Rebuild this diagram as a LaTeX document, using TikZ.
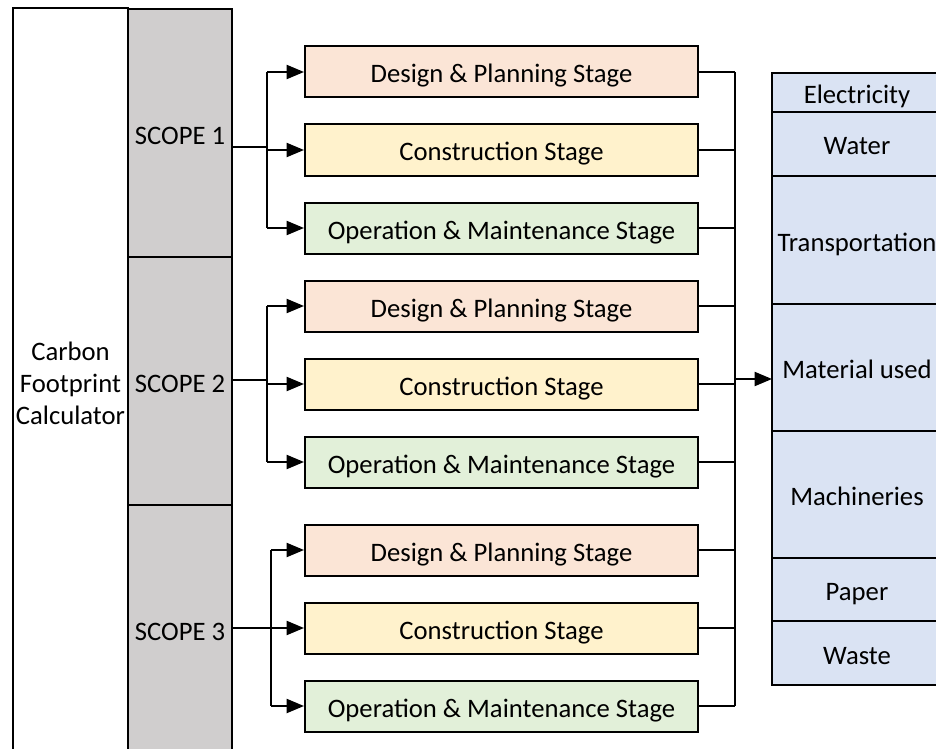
\documentclass[tikz,border=0pt]{standalone}
\usepackage{fontspec}
\setmainfont{Carlito}
\usetikzlibrary{arrows.meta,positioning}

\definecolor{plan}{HTML}{FBE5D6}
\definecolor{build}{HTML}{FFF2CC}
\definecolor{operate}{HTML}{E2F0D9}
\definecolor{source}{HTML}{DAE3F3}
\definecolor{scopegray}{HTML}{D0CECE}

\begin{document}
\begin{tikzpicture} [>={Triangle[length=13pt,width=10.5pt]},node distance=58.5pt,line width=1.5pt,
  font=\fontsize{20}{24}\selectfont,
  label text/.style={text height=20pt,text depth=3.5pt},
  stage/.style={draw,rectangle,minimum width=294.75pt,minimum height=38.25pt,inner sep=0pt,label text},
  scopebox/.style={draw,fill=scopegray,minimum width=78pt,minimum height=186pt,inner sep=0pt,label text},
  cell/.style={draw,fill=source,minimum width=127.5pt,inner sep=0pt,outer sep=0pt,anchor=north,label text}]

  \useasboundingbox (0,0) rectangle (702pt,-561.75pt);

  \node[draw,minimum width=86.25pt,minimum height=563.25pt,inner sep=0pt,align=center] (calc) at (52.875pt,-287.5pt) {Carbon\\Footprint\\Calculator};

  \node[scopebox] (s1) at (135pt,-99.75pt) {SCOPE 1};
  \node[scopebox] (s2) [below of=s1, node distance=186pt] {SCOPE 2};
  \node[scopebox] (s3) [below of=s2, node distance=186pt] {SCOPE 3};

  \node[stage,fill=plan] (d1) at (376.125pt,-54pt) {Design \& Planning Stage};
  \node[stage,fill=build] (c1) [below of=d1] {Construction Stage};
  \node[stage,fill=operate] (o1) [below of=c1] {Operation \& Maintenance Stage};
  \node[stage,fill=plan] (d2) [below of=o1] {Design \& Planning Stage};
  \node[stage,fill=build] (c2) [below of=d2] {Construction Stage};
  \node[stage,fill=operate] (o2) [below of=c2] {Operation \& Maintenance Stage};
  \node[stage,fill=plan] (d3) [below of=o2, node distance=66pt] {Design \& Planning Stage};
  \node[stage,fill=build] (c3) [below of=d3] {Construction Stage};
  \node[stage,fill=operate] (o3) [below of=c3] {Operation \& Maintenance Stage};

  \node[cell,minimum height=29.25pt] (elec) at (642.75pt,-54.75pt) {Electricity};
  \node[cell,minimum height=48pt] (water) [below=0pt of elec] {Water};
  \node[cell,minimum height=96pt] (trans) [below=0pt of water] {Transportation};
  \node[cell,minimum height=95.25pt] (mat) [below=0pt of trans] {Material used};
  \node[cell,minimum height=95.25pt] (mach) [below=0pt of mat] {Machineries};
  \node[cell,minimum height=47.25pt] (paper) [below=0pt of mach] {Paper};
  \node[cell,minimum height=48pt] (waste) [below=0pt of paper] {Waste};

  \coordinate (b1) at (200.25pt,-110.25pt);
  \coordinate (b2) at (200.25pt,-285pt);
  \coordinate (b3) at (203.25pt,-471pt);
  \coordinate (agg) at (551.25pt,-284.25pt);

  % scopes to stages
  \draw (s1.east |- b1) -- (b1);
  \draw (s2.east |- b2) -- (b2);
  \draw (s3.east |- b3) -- (b3);
  \draw (b1 |- d1) -- (b1 |- o1);
  \draw (b2 |- d2) -- (b2 |- o2);
  \draw (b3 |- d3) -- (b3 |- o3);
  \path[->]
    (b1 |- d1) edge (d1)
    (b1 |- c1) edge (c1)
    (b1 |- o1) edge (o1)
    (b2 |- d2) edge (d2)
    (b2 |- c2) edge (c2)
    (b2 |- o2) edge (o2)
    (b3 |- d3) edge (d3)
    (b3 |- c3) edge (c3)
    (b3 |- o3) edge (o3);

  % stages to sources
  \path
    (d1.east) edge (d1 -| agg)
    (c1.east) edge (c1 -| agg)
    (o1.east) edge (o1 -| agg)
    (d2.east) edge (d2 -| agg)
    (c2.east) edge (c2 -| agg)
    (o2.east) edge (o2 -| agg)
    (d3.east) edge (d3 -| agg)
    (c3.east) edge (c3 -| agg)
    (o3.east) edge (o3 -| agg);
  \draw (agg |- d1) -- (agg |- o3);
  \draw[->] (agg) -- (agg -| mat.west);

\end{tikzpicture}
\end{document}
